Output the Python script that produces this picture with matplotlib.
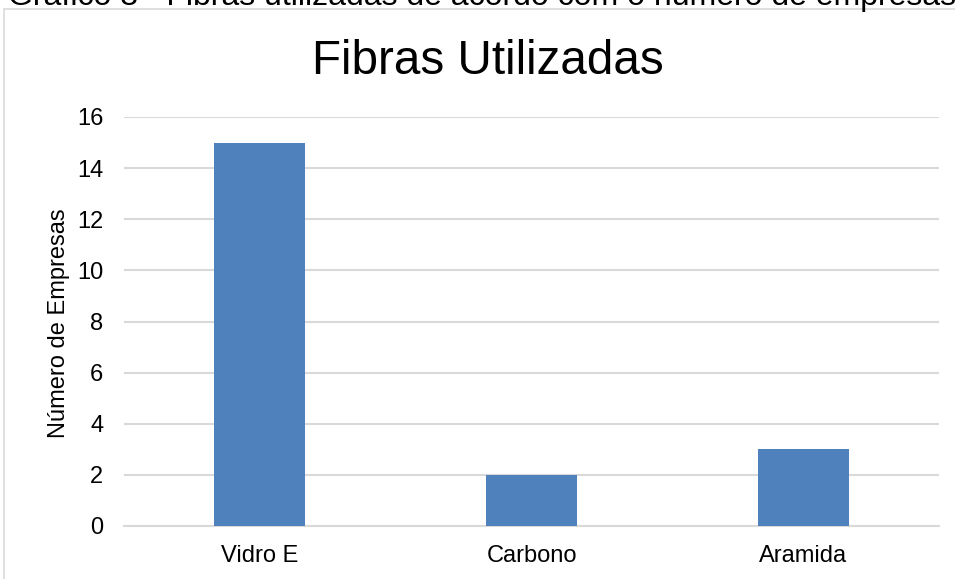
import matplotlib.pyplot as plt
from matplotlib.patches import Rectangle

plt.rcParams['font.family'] = ['Liberation Sans', 'DejaVu Sans']

categorias = ["Vidro E", "Carbono", "Aramida"]
empresas = [15, 2, 3]
yticks = [0, 2, 4, 6, 8, 10, 12, 14, 16]

W, H = 955, 579
fig = plt.figure(figsize=(W / 100, H / 100), dpi=100)

# chart frame (cut at the right and bottom edges like the screenshot)
fig.patches.append(Rectangle((4 / W, -0.1), 1.2, 1 - 9 / H + 0.1,
                             transform=fig.transFigure, fill=False,
                             edgecolor='#d9d9d9', lw=1.2))

ax = fig.add_axes([124 / W, (H - 526) / H, 815 / W, 409 / H])
x = range(len(categorias))
ax.bar(x, empresas, width=0.335, color='#4f81bd', zorder=3)

ax.set_xlim(-0.5, 2.5)
ax.set_ylim(0, 16)
ax.set_yticks(yticks)
ax.set_xticks(list(x))
ax.set_xticklabels(categorias)
ax.grid(axis='y', color='#d9d9d9', lw=1.5, zorder=0)
for s in ['top', 'right', 'left']:
    ax.spines[s].set_visible(False)
ax.spines['bottom'].set_color('#d9d9d9')
ax.spines['bottom'].set_linewidth(1.5)
ax.tick_params(axis='both', length=0, labelsize=17, colors='black')
ax.tick_params(axis='y', pad=15)
ax.tick_params(axis='x', pad=14)

fig.text(59 / W, 1 - 323 / H, "Número de Empresas", rotation=90,
         ha='center', va='center', fontsize=17)
fig.text(488 / W, 1 - 74 / H, "Fibras Utilizadas", ha='center',
         va='baseline', fontsize=34.3)
fig.text(8 / W, 1 - 5 / H,
         "Gráfico 3 - Fibras utilizadas de acordo com o número de empresas",
         ha='left', va='baseline', fontsize=23)

fig.savefig("out.png", dpi=100)
